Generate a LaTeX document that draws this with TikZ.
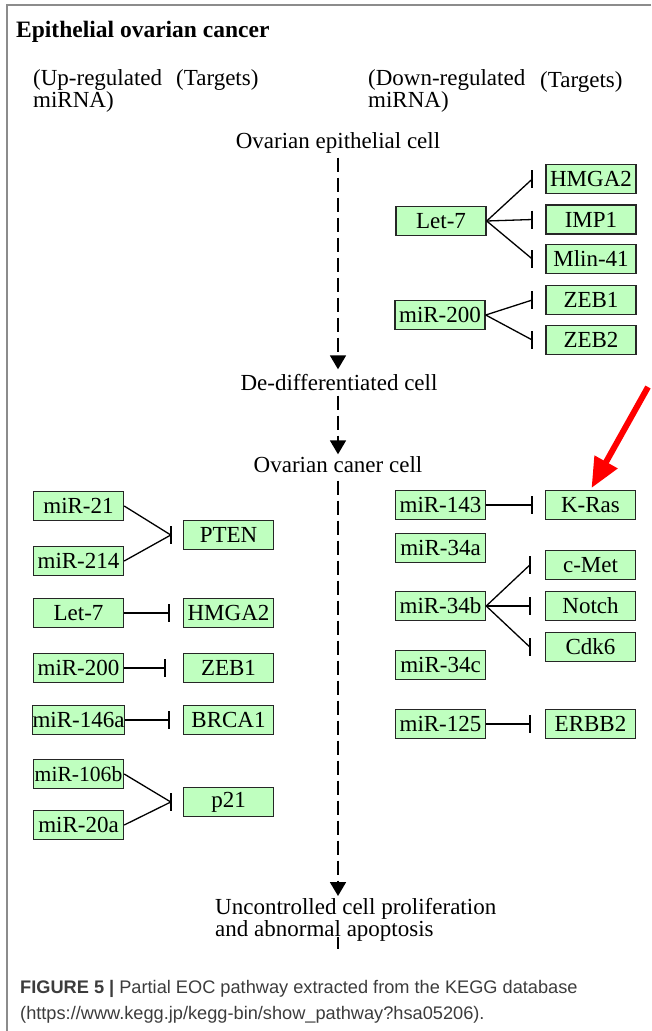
\documentclass[tikz,border=0pt]{standalone}
\usepackage{fontspec}
\setmainfont{Liberation Serif}
\newfontfamily\capfont{Liberation Sans}
\usepackage{xcolor}
\usepackage{tikz}
\usetikzlibrary{arrows.meta}
\definecolor{keggreen}{HTML}{BFFFBF}
\definecolor{framegray}{HTML}{8C8C8C}
\definecolor{capgray}{HTML}{3C3C3C}
\tikzstyle{gene} = [draw=black!85,fill=keggreen,line width=1.4pt,minimum width=90pt,minimum height=29pt,inner sep=0pt,font=\fontsize{23}{23}\selectfont]
\tikzstyle{stage} = [inner sep=0pt,text height=16pt,text depth=5pt,font=\fontsize{23}{23}\selectfont]
\tikzstyle{head} = [inner sep=0pt,align=left,font=\fontsize{23}{17}\selectfont]
\tikzstyle{flow} = [line width=1.8pt,dash pattern=on 14pt off 6pt,-{Triangle[length=14pt,width=16pt]}]
\tikzstyle{link} = [line width=1.3pt]
\tikzstyle{inhbar} = [line width=1.9pt]
\tikzstyle{pointer} = [line width=6pt,red,-{Triangle[length=30pt,width=25pt]}]

% miRNA -| target : line to a bar placed #1 left of the target box
\newcommand{\inhibit}[3][13pt]{%
  \draw[link] (#2.east) -- ([xshift=-#1]#3.west);
  \draw[inhbar] ([xshift=-#1,yshift=9pt]#3.west) -- ([xshift=-#1,yshift=-9pt]#3.west);}

\begin{document}
\begin{tikzpicture}[x=1pt,y=-1pt]
	\useasboundingbox (0,0) rectangle (651,1031);
	% Frame round the figure
	\draw[framegray,line width=1.2pt] (651,5) -- (7,5) -- (7,1031);

	% Title and column heads
	\node[anchor=west,inner sep=0pt,font=\bfseries\fontsize{23.5}{23.5}\selectfont] (title) at (16,32) {Epithelial ovarian cancer};
	\node[head,anchor=north west] (uphead) at (33,69) {(Up-regulated\\miRNA)};
	\node[head,anchor=north west] (uptgt) at (176,69) {(Targets)};
	\node[head,anchor=north west] (dnhead) at (368,69) {(Down-regulated\\miRNA)};
	\node[head,anchor=north west] (dntgt) at (540,71) {(Targets)};

	% Stages of the pathway
	\node[stage] (epi) at (338,143) {Ovarian epithelial cell};
	\node[stage] (dedi) at (339,385) {De-differentiated cell};
	\node[stage] (canc) at (338,467) {Ovarian caner cell};
	\node[inner sep=0pt,align=left,anchor=north west,font=\fontsize{23}{20}\selectfont] (prolif) at (215,898) {Uncontrolled cell proliferation\\and abnormal apoptosis};

	\draw[flow,shorten <=4pt,shorten >=5pt] (epi.south) -- (epi.south |- dedi.north);
	\draw[flow,shorten >=2pt] (epi.south |- dedi.south) -- (epi.south |- canc.north);
	\draw[flow,shorten <=3pt,shorten >=2pt] (epi.south |- canc.south) -- (epi.south |- prolif.north);
	\draw[line width=1.8pt] (epi.south |- prolif.south) ++(0,-4) -- ++(0,12);

	% Gene boxes
	\foreach \nm/\lbl/\xx/\yy in {
		let7d/Let-7/441/221, m200d/miR-200/440/315,
		hmgad/HMGA2/591/179, imp1/IMP1/591/219.5, mlin/Mlin-41/591/259,
		zebad/ZEB1/591/300, zebb/ZEB2/591/340,
		m21/miR-21/78.5/506, m214/miR-214/78.5/561, pten/PTEN/228.5/535,
		let7u/Let-7/78.5/613, hmgau/HMGA2/228.5/613,
		m200u/miR-200/78.5/668, zebau/ZEB1/228.5/668,
		m146/miR-146a/78.5/720, brca/BRCA1/228.5/720,
		m106/{\fontsize{21.6}{22}\selectfont miR-106b}/78.5/774, m20a/miR-20a/78.5/825, p21/p21/228.5/802,
		m143/miR-143/440.5/505, kras/K-Ras/590.5/505,
		m34a/miR-34a/440.5/548, cmet/c-Met/590.5/565,
		m34b/miR-34b/440.5/606, notch/Notch/590.5/606, cdk/Cdk6/590.5/647,
		m34c/miR-34c/440.5/665,
		m125/miR-125/440.5/724, erbb/ERBB2/590.5/724}
		\node[gene] (\nm) at (\xx,\yy) {\lbl};

	% Inhibitions, down-regulated miRNA
	\inhibit{let7d}{hmgad}
	\inhibit{let7d}{imp1}
	\inhibit{let7d}{mlin}
	\inhibit{m200d}{zebad}
	\inhibit{m200d}{zebb}
	\inhibit{m143}{kras}
	\inhibit[15pt]{m34b}{cmet}
	\inhibit[15pt]{m34b}{notch}
	\inhibit[15pt]{m34b}{cdk}
	\inhibit[15pt]{m125}{erbb}
	% Inhibitions, up-regulated miRNA
	\inhibit[12pt]{m21}{pten}
	\inhibit[12pt]{m214}{pten}
	\inhibit[14pt]{let7u}{hmgau}
	\inhibit[18pt]{m200u}{zebau}
	\inhibit[14pt]{m146}{brca}
	\inhibit[12pt]{m106}{p21}
	\inhibit[12pt]{m20a}{p21}

	% Red marker on K-Ras
	\coordinate (mark) at (648,387);
	\draw[pointer,shorten >=2pt] (mark) -- (kras.north);

	% Caption
	\node[anchor=base west,inner sep=0pt,align=left,text=capgray,font=\capfont\fontsize{18.2}{26}\selectfont] (caption) at (20,1019) {\textbf{FIGURE 5 |} Partial EOC pathway extracted from the KEGG database\\(https://www.kegg.jp/kegg-bin/show\_pathway?hsa05206).};
\end{tikzpicture}
\end{document}
